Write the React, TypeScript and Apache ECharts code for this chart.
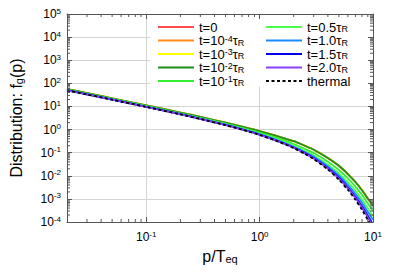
import React, { useEffect, useRef } from 'react';
import * as echarts from 'echarts';

// momentum grid p/T_eq
const P = [0.02, 0.03, 0.05, 0.1, 0.2, 0.3, 0.5, 0.7, 1, 1.5, 2, 2.5, 3, 4, 5, 6, 7, 8, 9, 10];
// distributions
const F_INIT = [56.8, 37.7, 22.6, 11.17, 5.43, 3.52, 1.98, 1.335, 0.861, 0.487, 0.313, 0.2, 0.1347, 0.0591, 0.027, 0.01187, 0.00538, 0.002379, 0.001047, 0.000509];
const F_T01 = [53.8, 35.6, 21.3, 10.47, 5.05, 3.24, 1.793, 1.185, 0.736, 0.394, 0.2376, 0.1474, 0.0959, 0.0404, 0.01783, 0.00766, 0.00339, 0.001488, 0.00064, 0.000299];
const F_T05 = [51.9, 34.4, 20.55, 10.06, 4.82, 3.075, 1.683, 1.099, 0.667, 0.3454, 0.2, 0.1204, 0.0757, 0.0303, 0.01263, 0.00526, 0.002215, 0.00093, 0.000391, 0.000176];
const F_T10 = [50.9, 33.7, 20.1, 9.82, 4.69, 2.98, 1.62, 1.051, 0.629, 0.319, 0.1803, 0.1067, 0.0657, 0.0255, 0.01026, 0.00409, 0.001668, 0.00068, 0.000277, 0.000125];
const F_T15 = [50.2, 33.3, 19.8, 9.665, 4.605, 2.92, 1.579, 1.02, 0.605, 0.3027, 0.1682, 0.0977, 0.0587, 0.0217, 0.00834, 0.00319, 0.001234, 0.000478, 0.000189, 0.0000792];
const F_T20 = [49.8, 33.0, 19.65, 9.59, 4.56, 2.89, 1.56, 1.005, 0.593, 0.2946, 0.1625, 0.0935, 0.0555, 0.02026, 0.00757, 0.002856, 0.00109, 0.000417, 0.000159, 0.0000622];
const F_THERMAL = [49.5, 32.8, 19.5, 9.51, 4.52, 2.86, 1.54, 0.99, 0.582, 0.287, 0.157, 0.0894, 0.0524, 0.0187, 0.00678, 0.00248, 0.000913, 0.000336, 0.000123, 0.0000454];

const SERIES_NAMES = ['t=0', 't=1e-4', 't=1e-3', 't=1e-2', 't=1e-1', 't=0.5', 't=1.0', 't=1.5', 't=2.0', 'thermal'];
const SERIES_LABELS: Record<string, string> = {
  't=0': 't=0',
  't=1e-4': 't=10{sup|-4}τ{sub|R}',
  't=1e-3': 't=10{sup|-3}τ{sub|R}',
  't=1e-2': 't=10{sup|-2}τ{sub|R}',
  't=1e-1': 't=10{sup|-1}τ{sub|R}',
  't=0.5': 't=0.5τ{sub|R}',
  't=1.0': 't=1.0τ{sub|R}',
  't=1.5': 't=1.5τ{sub|R}',
  't=2.0': 't=2.0τ{sub|R}',
  'thermal': 'thermal',
};
const SERIES_DATA = [F_INIT, F_INIT, F_INIT, F_INIT, F_T01, F_T05, F_T10, F_T15, F_T20, F_THERMAL];
const COLORS = ['#ff4d4d', '#ff8c1a', '#ffff00', '#1e8c1e', '#33ee33', '#4cff4c', '#1a8cff', '#0000ee', '#8c40ff', '#000000'];

const X_MIN = 0.02, X_MAX = 10, Y_MIN = 1e-4, Y_MAX = 1e5;
const X_MINOR = [0.03, 0.04, 0.05, 0.06, 0.07, 0.08, 0.09, 0.2, 0.3, 0.4, 0.5, 0.6, 0.7, 0.8, 0.9, 2, 3, 4, 5, 6, 7, 8, 9];
const Y_DECADES = [1e-4, 1e-3, 1e-2, 1e-1, 1, 10, 100, 1e3, 1e4];
const MINOR_MULT = [2, 3, 4, 5, 6, 7, 8, 9];

const FONT = 'Liberation Sans, Arial, sans-serif';
const FRAME = '#555555';

const powLabel = (v: number) => {
  const e = Math.log10(v);
  const r = Math.round(e);
  if (Math.abs(e - r) > 1e-6) return '';
  return '10{sup|' + r + '}';
};

export default function App() {
  const ref = useRef<HTMLDivElement>(null);
  useEffect(() => {
    const chart = echarts.init(ref.current!, null, { renderer: 'svg' });
    const yMinor: number[] = [];
    Y_DECADES.forEach((d) => MINOR_MULT.forEach((m) => yMinor.push(d * m)));

    const labelRich = {
      sup: { fontSize: 8, lineHeight: 6, verticalAlign: 'top', fontFamily: FONT, color: '#000' },
    };
    const legendText = {
      fontFamily: FONT,
      fontSize: 13,
      lineHeight: 13,
      color: '#000',
      rich: {
        sup: { fontSize: 9, lineHeight: 4, verticalAlign: 'top', fontFamily: FONT, color: '#000' },
        sub: { fontSize: 9, lineHeight: 4, verticalAlign: 'bottom', fontFamily: FONT, color: '#000' },
      },
    };
    const lineSeries = SERIES_NAMES.map((name, i) => ({
      name,
      type: 'line',
      xAxisIndex: 0,
      yAxisIndex: 0,
      data: P.map((p, j) => [p, SERIES_DATA[i][j]]),
      symbol: 'none',
      smooth: 0.25,
      clip: true,
      z: 2,
      lineStyle: {
        color: COLORS[i],
        width: 1.8,
        type: name === 'thermal' ? [3, 2.5] : 'solid',
      },
      itemStyle: { color: COLORS[i] },
    }));

    const legendBase = {
      orient: 'vertical',
      top: 20.5,
      padding: 0,
      itemGap: 0.5,
      itemWidth: 36,
      itemHeight: 10,
      itemStyle: { opacity: 0 },
      formatter: (n: string) => SERIES_LABELS[n],
      textStyle: legendText,
      z: 6,
    };

    const tickStyle = { stroke: FRAME, lineWidth: 1 };
    const option: any = {
      animation: false,
      backgroundColor: '#ffffff',
      grid: { left: 57, top: 14, width: 316, height: 208, containLabel: false },
      graphic: [
        {
          type: 'rect',
          shape: { x: 150, y: 14.5, width: 222.5, height: 72 },
          style: { fill: '#ffffff' },
          z: 3,
          silent: true,
        },
      ],
      legend: [
        { ...legendBase, data: SERIES_NAMES.slice(0, 5), left: 157 },
        { ...legendBase, data: SERIES_NAMES.slice(5), left: 265 },
      ],
      xAxis: [
        {
          type: 'log',
          logBase: 10,
          min: X_MIN,
          max: X_MAX,
          position: 'bottom',
          name: 'p/T{sub|eq}',
          nameLocation: 'middle',
          nameGap: 26,
          nameTextStyle: {
            fontFamily: FONT,
            fontSize: 16,
            color: '#000',
            rich: { sub: { fontSize: 11, lineHeight: 6, verticalAlign: 'bottom', fontFamily: FONT, color: '#000' } },
          },
          axisLine: { show: true, lineStyle: { color: FRAME, width: 1 } },
          axisTick: { show: true, inside: true, length: 5, lineStyle: { color: FRAME } },
          axisLabel: {
            formatter: powLabel,
            showMinLabel: false,
            margin: 8,
            fontFamily: FONT,
            fontSize: 12,
            lineHeight: 14,
            color: '#000',
            rich: labelRich,
          },
          splitLine: { show: true, lineStyle: { color: '#d4d4d4', width: 1 } },
          z: 0,
        },
        {
          type: 'log',
          logBase: 10,
          min: X_MIN,
          max: X_MAX,
          position: 'top',
          axisLine: { show: true, lineStyle: { color: FRAME, width: 1 } },
          axisTick: { show: true, inside: true, length: 5, lineStyle: { color: FRAME } },
          axisLabel: { show: false },
          splitLine: { show: false },
          z: 5,
        },
      ],
      yAxis: [
        {
          type: 'log',
          logBase: 10,
          min: Y_MIN,
          max: Y_MAX,
          position: 'left',
          name: 'Distribution: f{sub|g}(p)',
          nameLocation: 'middle',
          nameGap: 43,
          nameTextStyle: {
            fontFamily: FONT,
            fontSize: 16,
            color: '#000',
            rich: { sub: { fontSize: 11, lineHeight: 6, verticalAlign: 'bottom', fontFamily: FONT, color: '#000' } },
          },
          axisLine: { show: true, lineStyle: { color: FRAME, width: 1 } },
          axisTick: { show: true, inside: true, length: 5, lineStyle: { color: FRAME } },
          axisLabel: {
            formatter: powLabel,
            margin: 6,
            fontFamily: FONT,
            fontSize: 12,
            lineHeight: 14,
            color: '#000',
            rich: labelRich,
          },
          splitLine: { show: true, lineStyle: { color: '#d4d4d4', width: 1 } },
          z: 0,
        },
        {
          type: 'log',
          logBase: 10,
          min: Y_MIN,
          max: Y_MAX,
          position: 'right',
          axisLine: { show: true, lineStyle: { color: FRAME, width: 1 } },
          axisTick: { show: true, inside: true, length: 5, lineStyle: { color: FRAME } },
          axisLabel: { show: false },
          splitLine: { show: false },
          z: 5,
        },
      ],
      series: [
        ...lineSeries,
        {
          type: 'custom',
          name: 'xminor',
          xAxisIndex: 0,
          yAxisIndex: 0,
          z: 5,
          silent: true,
          data: X_MINOR.map((v) => [v, 1]),
          renderItem: (_p: any, api: any) => {
            const v = api.value(0);
            const b = api.coord([v, Y_MIN]);
            const t = api.coord([v, Y_MAX]);
            return {
              type: 'group',
              children: [
                { type: 'line', shape: { x1: b[0], y1: b[1], x2: b[0], y2: b[1] - 3 }, style: tickStyle },
                { type: 'line', shape: { x1: t[0], y1: t[1], x2: t[0], y2: t[1] + 3 }, style: tickStyle },
              ],
            };
          },
        },
        {
          type: 'custom',
          name: 'yminor',
          xAxisIndex: 0,
          yAxisIndex: 0,
          z: 5,
          silent: true,
          data: yMinor.map((v) => [1, v]),
          renderItem: (_p: any, api: any) => {
            const v = api.value(1);
            const l = api.coord([X_MIN, v]);
            const r = api.coord([X_MAX, v]);
            return {
              type: 'group',
              children: [
                { type: 'line', shape: { x1: l[0], y1: l[1], x2: l[0] + 3, y2: l[1] }, style: tickStyle },
                { type: 'line', shape: { x1: r[0], y1: r[1], x2: r[0] - 3, y2: r[1] }, style: tickStyle },
              ],
            };
          },
        },
      ],
    };
    chart.setOption(option);
    return () => chart.dispose();
  }, []);
  return (
    <div
      ref={ref}
      style={{ position: 'fixed', left: 0, top: 0, width: 399, height: 279, background: '#fff' }}
    />
  );
}
